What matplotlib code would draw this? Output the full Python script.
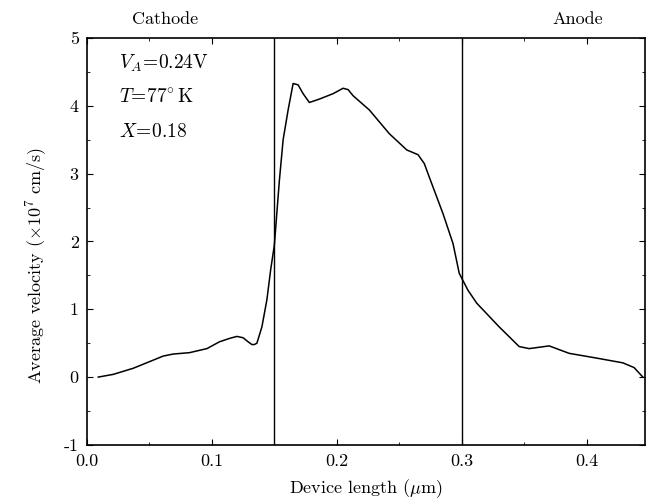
import numpy as np
import matplotlib
matplotlib.use('Agg')
import matplotlib.pyplot as plt
from matplotlib.ticker import MultipleLocator

plt.rcParams['font.family'] = 'serif'
plt.rcParams['font.serif'] = ['cmr10', 'DejaVu Serif']
plt.rcParams['mathtext.fontset'] = 'cm'
plt.rcParams['axes.unicode_minus'] = False
plt.rcParams['axes.formatter.use_mathtext'] = True

# velocity profile
x_um = [0.009, 0.021, 0.037, 0.053, 0.061, 0.069, 0.082, 0.096, 0.106, 0.114,
        0.120, 0.125, 0.129, 0.132, 0.134, 0.136, 0.140, 0.144, 0.147, 0.150,
        0.154, 0.157, 0.161, 0.165, 0.169, 0.173, 0.178, 0.186, 0.197, 0.205,
        0.209, 0.213, 0.226, 0.242, 0.256, 0.265, 0.270, 0.274, 0.285, 0.293,
        0.298, 0.305, 0.312, 0.330, 0.346, 0.354, 0.362, 0.370, 0.386, 0.408,
        0.420, 0.429, 0.438, 0.445]
v_avg = [0.00, 0.04, 0.13, 0.25, 0.31, 0.34, 0.36, 0.42, 0.52, 0.57,
         0.60, 0.58, 0.52, 0.48, 0.48, 0.50, 0.74, 1.14, 1.58, 1.95,
         2.90, 3.50, 3.94, 4.33, 4.31, 4.18, 4.05, 4.10, 4.18, 4.26,
         4.24, 4.15, 3.94, 3.59, 3.35, 3.28, 3.15, 2.95, 2.41, 1.97,
         1.53, 1.28, 1.09, 0.74, 0.45, 0.42, 0.44, 0.46, 0.35, 0.28,
         0.24, 0.21, 0.14, 0.00]
boundaries = [0.15, 0.30]
params = [r'$V_A\!=\!0.24$V', r'$T\!=\!77^{\circ}\,$K', r'$X\!=\!0.18$']

fig = plt.figure(figsize=(6.47, 5.01), dpi=100)
ax = fig.add_axes([0.1345, 0.112, 0.862, 0.812])

ax.plot(x_um, v_avg, color='black', lw=1.1)
for b in boundaries:
    ax.axvline(b, color='black', lw=1.0)

ax.set_xlim(0, 0.4465)
ax.set_ylim(-1, 5)
ax.xaxis.set_minor_locator(MultipleLocator(0.05))
ax.yaxis.set_minor_locator(MultipleLocator(0.5))
ax.set_xticks([0.0, 0.1, 0.2, 0.3, 0.4])
ax.set_xticklabels(['0.0', '0.1', '0.2', '0.3', '0.4'])
ax.set_yticks([-1, 0, 1, 2, 3, 4, 5])
ax.set_yticklabels(['-1', '0', '1', '2', '3', '4', '5'])
ax.tick_params(which='both', direction='in', top=True, right=True, labelsize=13)
ax.tick_params(which='major', length=4, pad=6)
ax.tick_params(which='minor', length=2)
for s in ax.spines.values():
    s.set_linewidth(1.2)

ax.set_xlabel(r'Device length ($\mu$m)', fontsize=13, labelpad=6)
ax.set_ylabel(r'Average velocity ($\times 10^7$ cm/s)', fontsize=13)
ax.yaxis.set_label_coords(-0.07, 0.44)

ax.text(0.0625, 5.27, 'Cathode', ha='center', va='center', fontsize=13, clip_on=False)
ax.text(0.393, 5.27, 'Anode', ha='center', va='center', fontsize=13, clip_on=False)
for i, p in enumerate(params):
    ax.text(0.026, 4.62 - i * 0.5, p, ha='left', va='center', fontsize=14)

fig.savefig('out.png', dpi=100)
